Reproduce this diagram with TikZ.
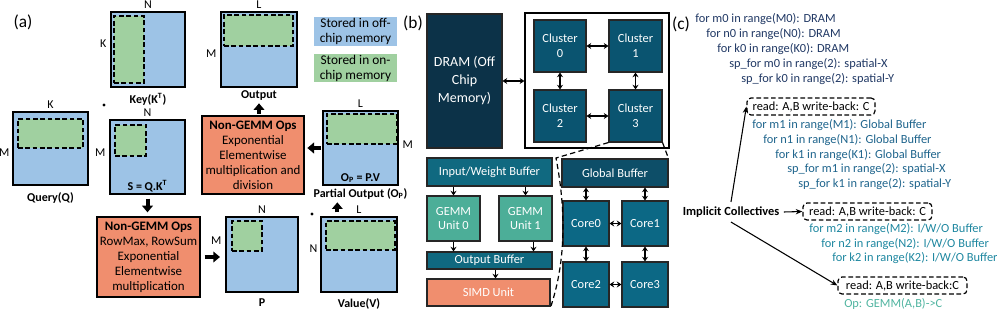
\documentclass[tikz,border=0pt]{standalone}
\usepackage{fontspec}
\setmainfont{Carlito}
\usetikzlibrary{arrows.meta, positioning, calc}
\definecolor{offchip}{RGB}{157,195,230}
\definecolor{onchip}{RGB}{160,208,160}
\definecolor{salmon}{RGB}{240,142,110}
\definecolor{dramblue}{RGB}{12,50,72}
\definecolor{clusterblue}{RGB}{10,84,112}
\definecolor{bufteal}{RGB}{16,105,128}
\definecolor{gbblue}{RGB}{13,78,104}
\definecolor{coreteal}{RGB}{12,104,133}
\definecolor{gemmgreen}{RGB}{76,174,152}
\definecolor{loopzero}{RGB}{32,56,100}
\definecolor{loopone}{RGB}{30,100,140}
\definecolor{looptwo}{RGB}{30,135,160}
\definecolor{opgreen}{RGB}{80,180,160}
\tikzset{
  corners/.style n args={4}{at={({(#1+#3)/2},{(#2+#4)/2})},
    minimum width={(#3-#1)*0.75pt}, minimum height={(#4-#2)*0.75pt}},
  mat/.style={draw, line width=1pt, fill=offchip, inner sep=0pt},
  tile/.style={draw, line width=1pt, dash pattern=on 3.5pt off 2pt, fill=onchip, inner sep=0pt},
  dimlbl/.style={inner sep=2pt, font=\fontsize{9}{10}\selectfont},
  caplbl/.style={inner sep=2pt, font=\bfseries\fontsize{9}{10}\selectfont},
  legendbox/.style={inner sep=0pt, align=center, font=\fontsize{10}{11.25}\selectfont},
  opsbox/.style={draw, line width=1pt, fill=salmon, inner sep=0pt, align=center, font=\fontsize{9.7}{11.25}\selectfont},
  bigarrow/.style={line width=3pt, -{Triangle[length=5pt, width=8pt]}},
  hw/.style={draw=black!85, line width=0.8pt, inner sep=0pt, align=center, text=white, font=\fontsize{9.3}{11}\selectfont},
  link/.style={line width=0.9pt, {Stealth[length=3.5pt, width=4.5pt]}-{Stealth[length=3.5pt, width=4.5pt]}},
  feed/.style={line width=0.9pt, -{Stealth[length=3.5pt, width=4.5pt]}},
  zoomline/.style={line width=0.9pt, dash pattern=on 4pt off 2.5pt},
  loopline/.style={anchor=west, inner sep=0pt, font=\fontsize{9.3}{11}\selectfont},
  collbox/.style={draw, line width=0.9pt, dash pattern=on 3.5pt off 2pt, rounded corners=3pt, inner sep=0pt, font=\fontsize{9.3}{11}\selectfont},
  panel/.style={font=\fontsize{13}{15}\selectfont},
  pointer/.style={line width=0.8pt, -{Stealth[length=5pt, width=4pt]}}
}
\begin{document}
\begin{tikzpicture}[x=0.75pt, y=-0.75pt]
  \useasboundingbox (0,0) rectangle (997,310);

  % (a) attention tiles
  \node[panel] (pa) at (23,22) {(a)};
  \node[mat, corners={111}{12}{185}{87}] (key) {};
  \node[tile, corners={114}{16}{144}{83}] (keyt) {};
  \node[dimlbl, above=0pt of key] (keyn) {N};
  \node[dimlbl, anchor=east] (keyk) at ($(key.west)+(-1,-6)$) {K};
  \node[caplbl, below=2pt of key] (keycap) {Key(K\textsuperscript{T})};

  \node[mat, corners={221}{12}{297}{87}] (out) {};
  \node[tile, corners={224}{15}{293}{46}] (outt) {};
  \node[dimlbl, above=0pt of out] (outl) {L};
  \node[dimlbl, anchor=east] (outm) at ($(out.west)+(-1,4)$) {M};
  \node[caplbl, below=0pt of out] (outcap) {Output};

  \node[legendbox, fill=offchip, corners={314}{17}{397}{46}] (legoff) {Stored in off-\\chip memory};
  \node[legendbox, fill=onchip, corners={314}{54}{397}{82}] (legon) {Stored in on-\\chip memory};

  \node[mat, corners={13}{112}{88}{185}] (qry) {};
  \node[tile, corners={18}{119}{83}{148}] (qryt) {};
  \node[dimlbl, above=0pt of qry] (qryk) {K};
  \node[dimlbl, anchor=east] (qrym) at ($(qry.west)+(0,4)$) {M};
  \node[caplbl, below=3pt of qry] (qrycap) {Query(Q)};
  \node[circle, fill, inner sep=0.9pt] (dotqk) at (104,105) {};

  \node[mat, corners={110}{120}{185}{194}] (s) {};
  \node[tile, corners={115}{125}{146}{156}] (st) {};
  \node[dimlbl, above=0pt of s] (sn) {N};
  \node[dimlbl, anchor=east] (sm) at ($(s.west)+(-1,-4)$) {M};
  \node[caplbl, above=0pt of s.south] (scap) {S = Q.K\textsuperscript{T}};

  \node[opsbox, corners={97}{217}{200}{297}] (ng1) {\textbf{Non-GEMM Ops}\\RowMax, RowSum\\Exponential\\Elementwise\\multiplication};

  \node[mat, corners={226}{217}{298}{292}] (p) {};
  \node[tile, corners={232}{221}{262}{251}] (pt) {};
  \node[dimlbl, above=0pt of p] (pn) {N};
  \node[dimlbl, anchor=east] (pm) at ($(p.west)+(-1,-14)$) {M};
  \node[caplbl, below=2pt of p] (pcap) {P};
  \node[circle, fill, inner sep=0.9pt] (dotpv) at (312,214) {};

  \node[mat, corners={321}{217}{397}{292}] (val) {};
  \node[tile, corners={326}{221}{395}{250}] (valt) {};
  \node[dimlbl, above=0pt of val] (vall) {L};
  \node[dimlbl, anchor=east] (valn) at ($(val.west)+(0,-6)$) {N};
  \node[caplbl, below=2pt of val] (valcap) {Value(V)};

  \node[mat, corners={323}{111}{398}{185}] (op) {};
  \node[tile, corners={327}{114}{397}{144}] (opt) {};
  \node[dimlbl, above=0pt of op] (opl) {L};
  \node[dimlbl, anchor=west] (opm) at ($(op.east)+(1,-3)$) {M};
  \node[caplbl, above=0pt of op.south] (opcap) {O\textsubscript{P} = P.V};
  \node[caplbl, below=0pt of op] (pol) {Partial Output (O\textsubscript{P})};

  \node[opsbox, corners={202}{116}{304}{194}] (ng2) {\textbf{Non-GEMM Ops}\\Exponential\\Elementwise\\multiplication and\\division};

  \draw[bigarrow, shorten <=3pt, shorten >=3pt] (s.south) -- (s.south |- ng1.north);
  \draw[bigarrow, shorten <=3pt, shorten >=4pt] (ng1.east) -- (ng1.east -| p.west);
  \draw[bigarrow, shorten <=3pt] (val.north west) ++(17,0) coordinate (vup) -- (vup |- pol.south);
  \draw[bigarrow, shorten <=1pt, shorten >=2pt] (op.west) -- (op.west -| ng2.east);
  \draw[bigarrow, shorten <=1pt] (ng2.north -| outcap) -- (outcap.south);

  % (b) hardware
  \node[panel] (pb) at (413,23) {(b)};
  \node[hw, fill=dramblue, corners={427}{14}{502}{148}, font=\fontsize{10.5}{13.5}\selectfont] (dram) {DRAM (Off\\Chip\\Memory)};
  \node[draw, line width=1pt, fill=white, inner sep=0pt, corners={525}{13}{669}{148}] (chip) {};
  \node[hw, fill=clusterblue, corners={534}{20}{586}{72}] (cl0) {Cluster\\0};
  \node[hw, fill=clusterblue, corners={609}{20}{662}{72}] (cl1) {Cluster\\1};
  \node[hw, fill=clusterblue, corners={534}{90}{586}{142}] (cl2) {Cluster\\2};
  \node[hw, fill=clusterblue, corners={609}{90}{662}{142}] (cl3) {Cluster\\3};
  \draw[link] (dram.east) -- (dram.east -| chip.west);
  \draw[link] (cl0) -- (cl1);
  \draw[link] (cl2) -- (cl3);
  \draw[link] (cl0) -- (cl2);
  \draw[link] (cl1) -- (cl3);

  \node[hw, fill=bufteal, corners={427}{158}{552}{186}] (ibuf) {Input/Weight Buffer};
  \node[hw, fill=gemmgreen, corners={427}{196}{480}{241}] (gemm0) {GEMM\\Unit 0};
  \node[hw, fill=gemmgreen, corners={499}{196}{552}{241}] (gemm1) {GEMM\\Unit 1};
  \node[hw, fill=bufteal, corners={427}{252}{552}{269}] (obuf) {Output Buffer};
  \node[hw, fill=salmon, corners={427}{279}{550}{306}] (simd) {SIMD Unit};
  \draw[feed] (ibuf.south -| gemm0) -- (gemm0.north);
  \draw[feed] (ibuf.south -| gemm1) -- (gemm1.north);
  \draw[feed] (gemm0.south) -- (gemm0.south |- obuf.north);
  \draw[feed] (gemm1.south) ++(8,0) coordinate (g1out) -- (g1out |- obuf.north);
  \draw[feed] (obuf.south) ++(6,0) coordinate (obout) -- (obout |- simd.north);

  \node[hw, fill=gbblue, corners={562}{159}{668}{187}] (gb) {Global Buffer};
  \node[hw, fill=coreteal, corners={563}{201}{609}{246}] (core0) {Core0};
  \node[hw, fill=coreteal, corners={622}{201}{668}{246}] (core1) {Core1};
  \node[hw, fill=coreteal, corners={563}{262}{609}{307}] (core2) {Core2};
  \node[hw, fill=coreteal, corners={622}{262}{668}{307}] (core3) {Core3};
  \draw[link] (gb.south -| core0) -- (core0.north);
  \draw[link] (gb.south -| core1) -- (core1.north);
  \draw[link] (core0) -- (core1);
  \draw[link] (core2) -- (core3);
  \draw[link] (core0) -- (core2);
  \draw[link] (core1) -- (core3);

  \coordinate (zl1) at (556,158);
  \coordinate (zl2) at (551,306);
  \draw[zoomline] (cl3.south west) -- (zl1) .. controls (566,210) and (566,260) .. (zl2);
  \draw[zoomline] (cl3.south east) -- (gb.north east);

  % (c) loop nest
  \node[panel] (pc) at (681,24) {(c)};
  \node[loopline, text=loopzero] (l1) at (695,19) {for m0 in range(M0): DRAM};
  \node[loopline, text=loopzero] (l2) at (706,34) {for n0 in range(N0): DRAM};
  \node[loopline, text=loopzero] (l3) at (717,49) {for k0 in range(K0): DRAM};
  \node[loopline, text=loopzero] (l4) at (729,64) {sp\_for m0 in range(2): spatial-X};
  \node[loopline, text=loopzero] (l5) at (741,79) {sp\_for k0 in range(2): spatial-Y};
  \node[collbox, corners={747}{98}{875}{115}] (rd1) {read: A,B write-back: C};
  \node[loopline, text=loopone] (l6) at (752,125) {for m1 in range(M1): Global Buffer};
  \node[loopline, text=loopone] (l7) at (763,140) {for n1 in range(N1): Global Buffer};
  \node[loopline, text=loopone] (l8) at (775,155) {for k1 in range(K1): Global Buffer};
  \node[loopline, text=loopone] (l9) at (787,169) {sp\_for m1 in range(2): spatial-X};
  \node[loopline, text=loopone] (l10) at (798,184) {sp\_for k1 in range(2): spatial-Y};
  \node[collbox, corners={803}{203}{932}{220}] (rd2) {read: A,B write-back: C};
  \node[loopline, text=looptwo] (l11) at (809,229) {for m2 in range(M2): I/W/O Buffer};
  \node[loopline, text=looptwo] (l12) at (821,244) {for n2 in range(N2): I/W/O Buffer};
  \node[loopline, text=looptwo] (l13) at (832,258) {for k2 in range(K2): I/W/O Buffer};
  \node[collbox, corners={838}{277}{967}{294}] (rd3) {read: A,B write-back:C};
  \node[loopline, text=opgreen] (l14) at (844,304) {Op: GEMM(A,B)->C};
  \node[font=\bfseries\fontsize{9.3}{11}\selectfont] (ic) at (731,212) {Implicit Collectives};
  \draw[pointer] (ic.north) -- (rd1.west);
  \draw[pointer] (ic.east) -- (rd2.west);
  \draw[pointer] (ic.south) -- (rd3.west);
\end{tikzpicture}
\end{document}
